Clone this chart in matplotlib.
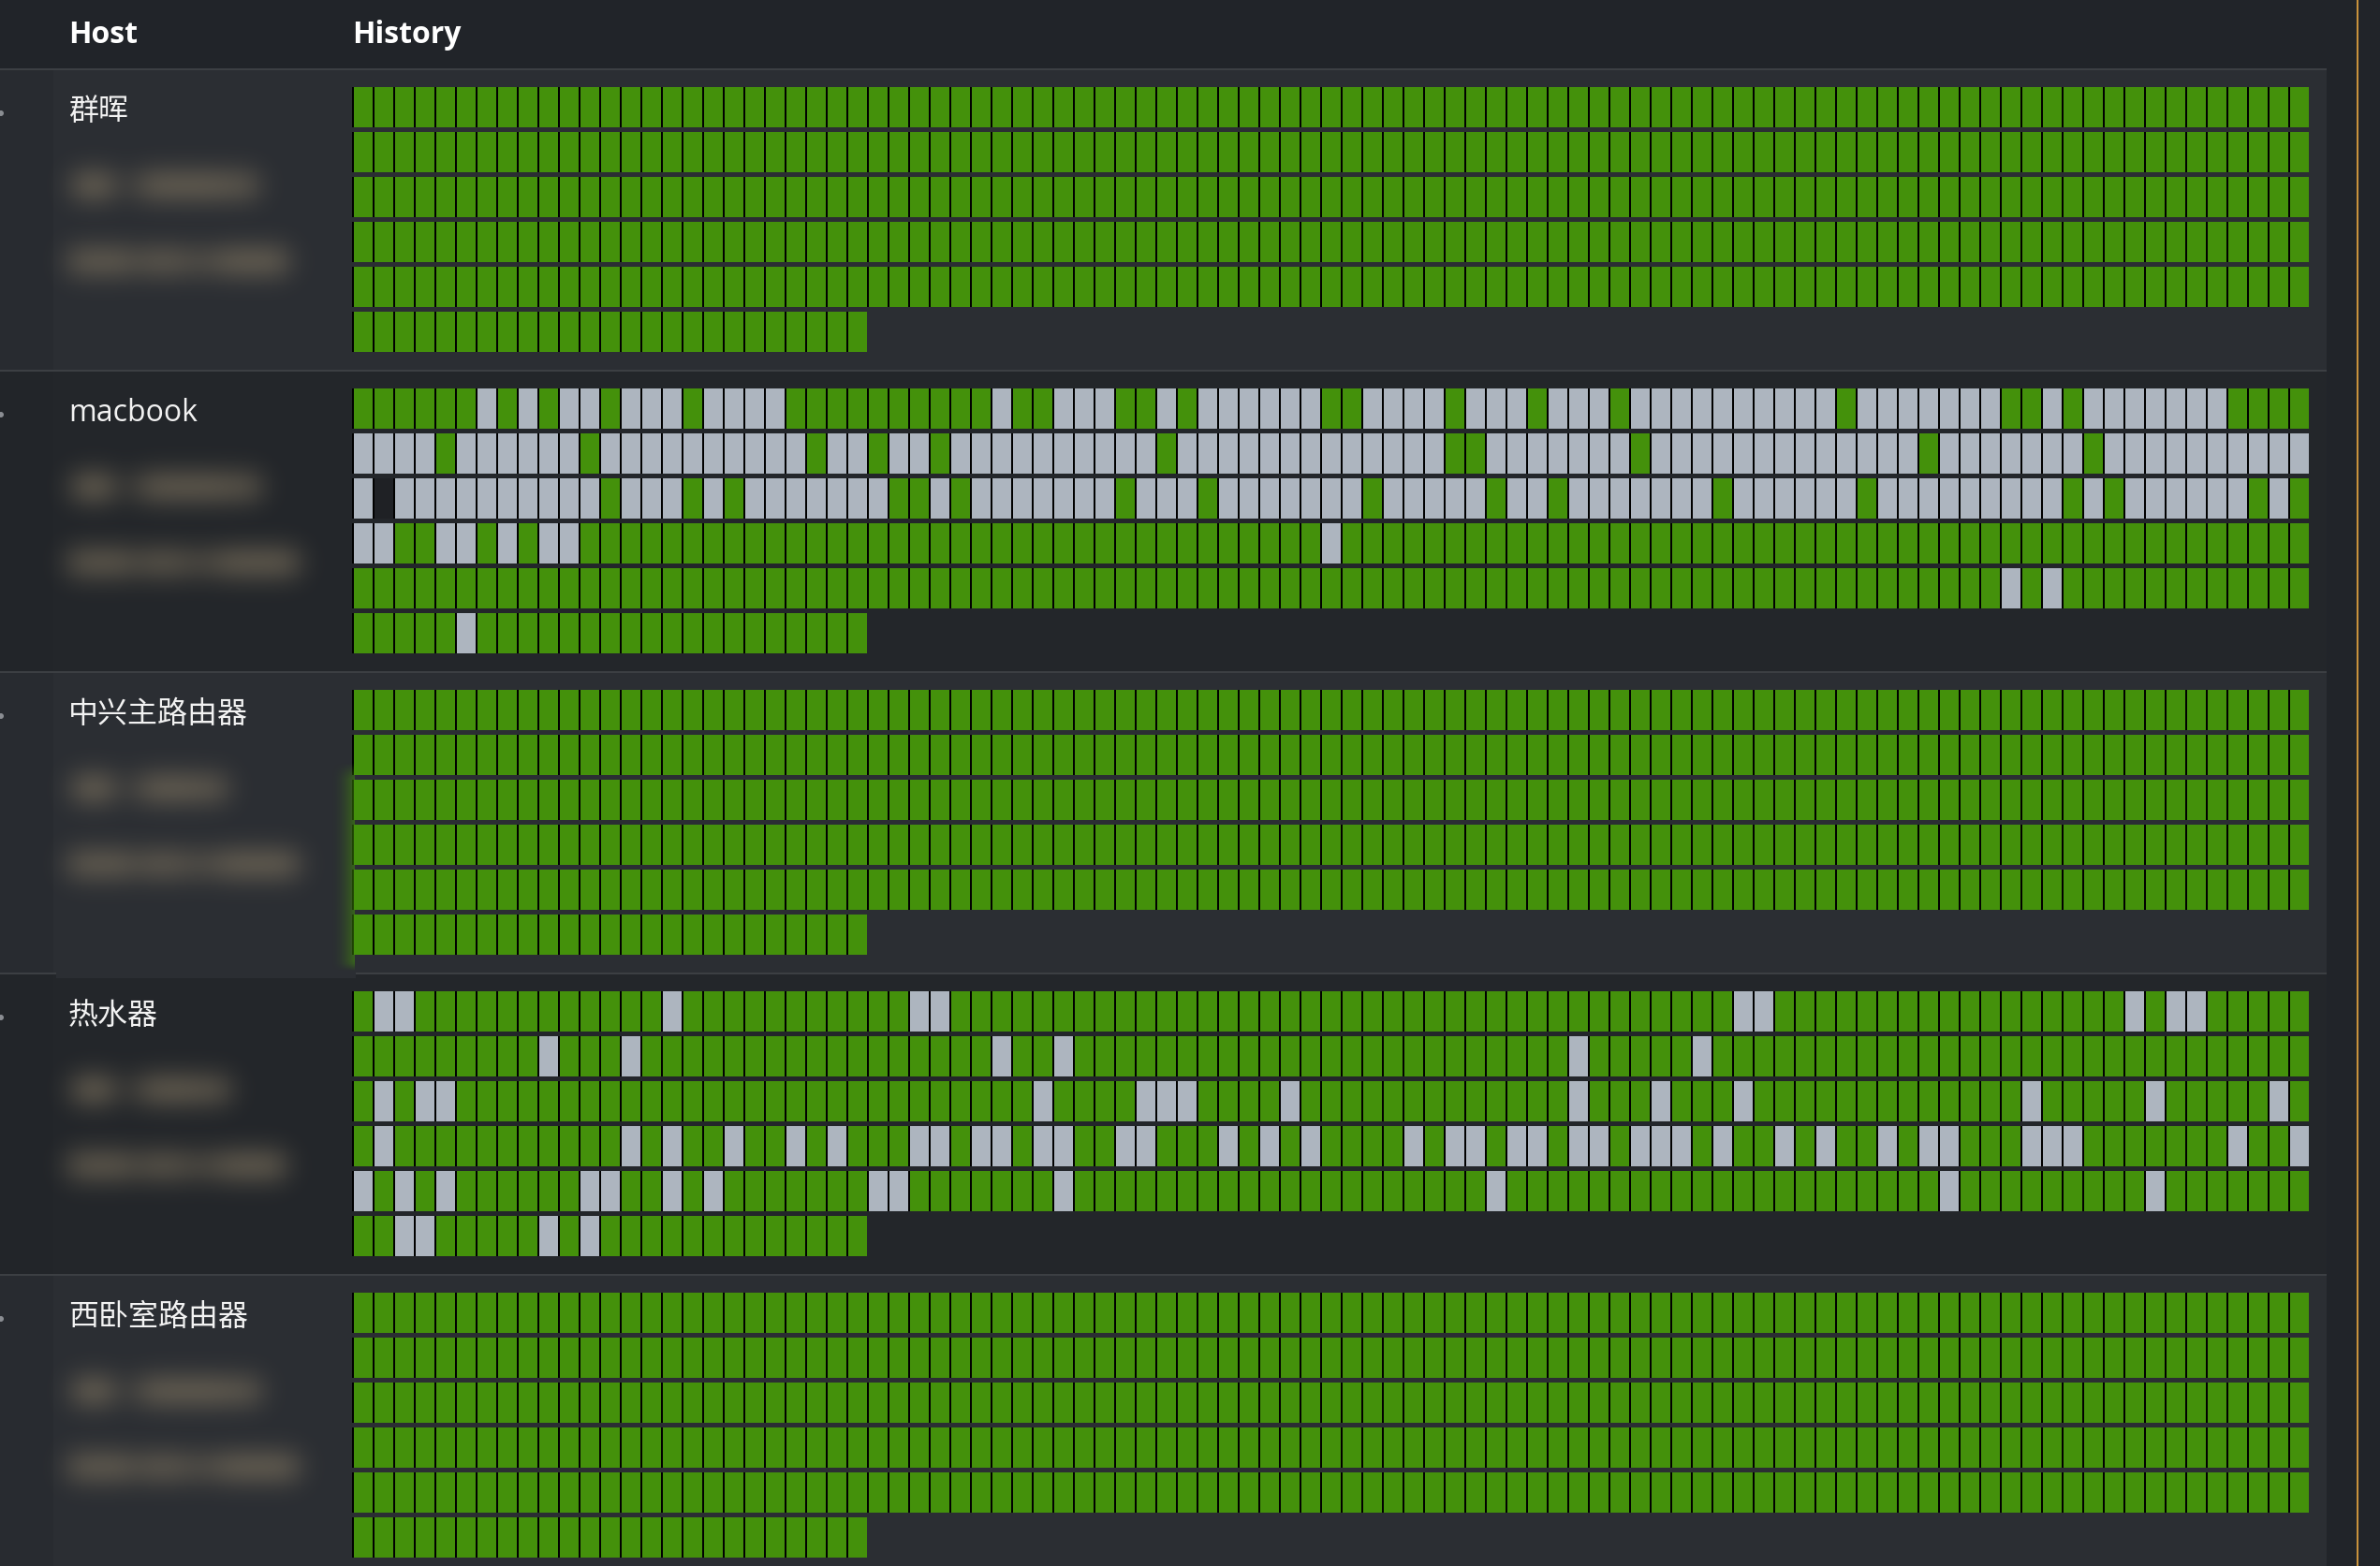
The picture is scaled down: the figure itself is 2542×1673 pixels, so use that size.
import math
import numpy as np
import matplotlib
matplotlib.use("Agg")
import matplotlib.pyplot as plt
from matplotlib.patches import Rectangle, Circle

# ---------------- data ----------------
HEADERS = ["Host", "History"]
HOSTS = ["群晖", "macbook", "中兴主路由器", "热水器", "西卧室路由器"]

# G = up (green), S = down (grey), D = no data (dark); 95 checks per row, 500 per host
UP_ROW = ("GGGGG GGGGG GGGGG GGGGG GGGGG GGGGG GGGGG GGGGG GGGGG GGGGG "
          "GGGGG GGGGG GGGGG GGGGG GGGGG GGGGG GGGGG GGGGG GGGGG")
UP_LAST = "GGGGG GGGGG GGGGG GGGGG GGGGG"

SYNOLOGY_HISTORY = [UP_ROW, UP_ROW, UP_ROW, UP_ROW, UP_ROW, UP_LAST]

MACBOOK_HISTORY = [
    "GGGGG GSGSG SSGSS SGSSS SGGGG GGGGG GSGGS SSGGS GSSSS SSGGS SSSGS SSGSS SGSSS SSSSS SSGSS SSSSS GGSGS SSSSS SGGGG",
    "SSSSG SSSSS SGSSS SSSSS SSGSS GSSGS SSSSS SSSSG SSSSS SSSSS SSSGG SSSSS SSGSS SSSSS SSSSS SGSSS SSSSG SSSSS SSSSS",
    "SDSSS SSSSS SSGSS SGSGS SSSSS SGGSG SSSSS SSGSS SGSSS SSSSG SSSSS GSSGS SSSSS SGSSS SSSGS SSSSS SSSGS GSSSS SSGSG",
    "SSGGS SGSGS SGGGG GGGGG GGGGG GGGGG GGGGG GGGGG GGGGG GGSGG GGGGG GGGGG GGGGG GGGGG GGGGG GGGGG GGGGG GGGGG GGGGG",
    "GGGGG GGGGG GGGGG GGGGG GGGGG GGGGG GGGGG GGGGG GGGGG GGGGG GGGGG GGGGG GGGGG GGGGG GGGGG GGGGG SGSGG GGGGG GGGGG",
    "GGGGG SGGGG GGGGG GGGGG GGGGG",
]

ZTE_HISTORY = [UP_ROW, UP_ROW, UP_ROW, UP_ROW, UP_ROW, UP_LAST]

HEATER_HISTORY = [
    "GSSGG GGGGG GGGGG SGGGG GGGGG GGSSG GGGGG GGGGG GGGGG GGGGG GGGGG GGGGG GGGGG GGSSG GGGGG GGGGG GGGGG GSGSS GGGGG",
    "GGGGG GGGGS GGGSG GGGGG GGGGG GGGGG GSGGS GGGGG GGGGG GGGGG GGGGG GGGGS GGGGG SGGGG GGGGG GGGGG GGGGG GGGGG GGGGG",
    "GSGSS GGGGG GGGGG GGGGG GGGGG GGGGG GGGSG GGGSS SGGGG SGGGG GGGGG GGGGS GGGSG GGSGG GGGGG GGGGG GSGGG GGSGG GGGSG",
    "GSGGG GGGGG GGGSG SGGSG GSGSG GGSSG SSGSS GGSSG GGSGS GSGGG GSGSS GSSGS SGSSS GSGGS GSGGS GSSGG GSSSG GGGGG GSGGS",
    "SGSGS GGGGG GSSGG SGSGG GGGGG SSGGG GGGGS GGGGG GGGGG GGGGG GGGGG SGGGG GGGGG GGGGG GGGGG GGSGG GGGGG GGSGG GGGGG",
    "GGSSG GGGGS GSGGG GGGGG GGGGG",
]

WEST_HISTORY = [UP_ROW, UP_ROW, UP_ROW, UP_ROW, UP_ROW, UP_LAST]

HISTORY = [SYNOLOGY_HISTORY, MACBOOK_HISTORY, ZTE_HISTORY, HEATER_HISTORY, WEST_HISTORY]

# right ends (px) of the two blurred address lines (IP, MAC) for every host
BLUR_LINE_ENDS = [(276, 308), (279, 319), (243, 319), (246, 305), (279, 319)]

# ---------------- style ----------------
STATUS_COLORS = {"G": "#44910b", "S": "#adb5bf", "D": "#1f2125"}
PAGE_BG = "#212429"
STRIPES = ["#2b2e33", "#23262a"]
LEFT_STRIP = ["#282b30", "#222529"]
RULE = "#3c3f43"
ACCENT = "#c9923c"
FONT = ["Open Sans", "Noto Sans CJK SC", "DejaVu Sans"]

W, H = 2542, 1674
DPI = 100
HEADER_RULE_Y = 74
BLOCK_TOP0 = 76
BLOCK_PITCH = 322
PANEL_RIGHT = 2485
GRID_X0, GRID_W = 376, 2090
CELLS_OFFSET = 18
ROW_PITCH, CELL_H = 48, 43
GRID_H = 5 * ROW_PITCH + CELL_H
N_COLS = 95
CELL_PX = GRID_W / N_COLS
BORDER_PX = 2

fig = plt.figure(figsize=(W / DPI, H / DPI), dpi=DPI, facecolor=PAGE_BG)
ax = fig.add_axes([0, 0, 1, 1])
ax.set_xlim(0, W)
ax.set_ylim(H, 0)
ax.axis("off")
ax.set_facecolor(PAGE_BG)

erf = np.vectorize(math.erf)


def blur_profile(coord, a, b, sigma):
    s = sigma * math.sqrt(2)
    return 0.5 * (erf((coord - a) / s) - erf((coord - b) / s))


def smudge(yc, segments, sigma=14.0, half_h=13.0):
    xa, xb = 15, 395
    ya, yb = yc - 60, yc + 60
    xs = np.arange(xa, xb) + 0.5
    ys = np.arange(ya, yb) + 0.5
    fy = blur_profile(ys, yc - half_h, yc + half_h, sigma)
    fx = np.zeros_like(xs)
    for a, b, k in segments:
        fx = fx + k * blur_profile(xs, a, b, sigma)
    fx = np.clip(fx, 0, 1)
    A = np.outer(fy, fx)
    img = np.zeros((len(ys), len(xs), 4))
    img[..., 0] = 132 / 255
    img[..., 1] = 120 / 255
    img[..., 2] = 98 / 255
    img[..., 3] = 0.85 * A
    ax.imshow(img, extent=(xa, xb, yb, ya), origin="upper", interpolation="bilinear",
              aspect="auto", zorder=3)


# header rule
ax.add_patch(Rectangle((0, HEADER_RULE_Y), PANEL_RIGHT, 2, color=RULE, lw=0, zorder=2))
ax.text(73, 46, HEADERS[0], fontsize=23, fontweight="bold", color="white",
        va="baseline", ha="left", family=FONT, zorder=4)
ax.text(GRID_X0, 46, HEADERS[1], fontsize=23, fontweight="bold", color="white",
        va="baseline", ha="left", family=FONT, zorder=4)

for k, host in enumerate(HOSTS):
    top = BLOCK_TOP0 + k * BLOCK_PITCH
    h = min(BLOCK_PITCH - 2, H - top)
    ax.add_patch(Rectangle((0, top), PANEL_RIGHT, h, color=STRIPES[k % 2], lw=0, zorder=1))
    ax.add_patch(Rectangle((0, top), 57, h, color=LEFT_STRIP[k % 2], lw=0, zorder=1))
    if top + BLOCK_PITCH - 2 < H:
        ax.add_patch(Rectangle((0, top + BLOCK_PITCH - 2), PANEL_RIGHT, 2, color=RULE, lw=0, zorder=2))
    ct = top + CELLS_OFFSET
    ax.add_patch(Circle((1, ct + 28), 3, color="#8a8d92", lw=0, zorder=3))
    ax.text(73, ct + 34, host, fontsize=23, color="#f2f2f2", va="baseline", ha="left",
            family=FONT, zorder=4)

    e1, e2 = BLUR_LINE_ENDS[k]
    smudge(ct + 105, [(78, 122, 0.95), (136, 150, 0.45), (152, e1 - 40, 0.9), (e1 - 40, e1, 0.8)])
    smudge(ct + 186, [(73, 140, 0.85), (140, 152, 0.45), (152, 192, 0.8), (192, 236, 0.6),
                      (236, e2, 0.9)])

    # history grid
    gax = fig.add_axes([GRID_X0 / W, 1 - (ct + GRID_H) / H, GRID_W / W, GRID_H / H])
    gax.set_facecolor("none")
    gax.axis("off")
    for r, row in enumerate(HISTORY[k]):
        states = row.replace(" ", "")
        cols = np.arange(len(states))
        gax.bar(cols, CELL_H / ROW_PITCH, width=1.0, bottom=r, align="edge",
                color="black", linewidth=0, antialiased=False)
        gax.bar(cols + BORDER_PX / CELL_PX, CELL_H / ROW_PITCH, width=1 - BORDER_PX / CELL_PX,
                bottom=r, align="edge", color=[STATUS_COLORS[s] for s in states],
                linewidth=0, antialiased=False)
    if host == "中兴主路由器":
        # soft green glow left by the privacy blur
        gx = np.linspace(0, 1, 40)
        gy = np.linspace(0, 1, 60)
        alpha = np.outer(np.clip(np.minimum(gy / 0.08, (1 - gy) / 0.04), 0, 1), gx ** 2) * 0.55
        glow = np.zeros((60, 40, 4))
        glow[..., 0] = 0x44 / 255
        glow[..., 1] = 0x91 / 255
        glow[..., 2] = 0x0b / 255
        glow[..., 3] = alpha
        y_a = (814 - ct) / ROW_PITCH
        y_b = (1040 - ct) / ROW_PITCH
        gax.imshow(glow, extent=(-24 / CELL_PX, 3 / CELL_PX, y_b, y_a), origin="upper",
                   aspect="auto", clip_on=False, zorder=5, interpolation="bilinear")
        ax.add_patch(Rectangle((60, 1036), 320, 10, color=STRIPES[k % 2], lw=0, zorder=2.5))
    gax.set_xlim(0, N_COLS)
    gax.set_ylim(GRID_H / ROW_PITCH, 0)

# accent line on the right
ax.add_patch(Rectangle((2517, 0), 2, H, color=ACCENT, lw=0, zorder=2))

fig.savefig("out.png", dpi=DPI, facecolor=PAGE_BG)
